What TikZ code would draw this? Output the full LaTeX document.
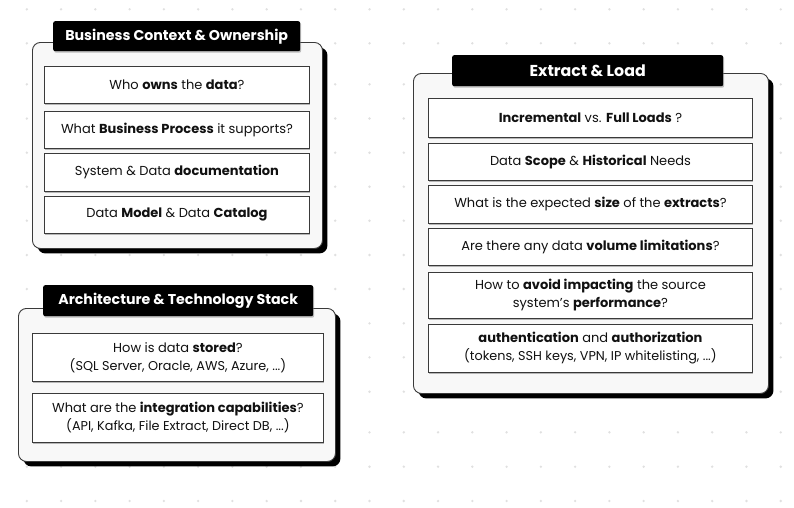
\documentclass[tikz,border=0pt]{standalone}
\usepackage{fontspec}
\setmainfont{Poppins}
\usetikzlibrary{shadows}
\definecolor{dotc}{HTML}{E0E0E0}
\definecolor{panelfill}{HTML}{F8F8F8}
\definecolor{txt}{HTML}{111111}
\definecolor{edge}{HTML}{3A3A3A}
\tikzset{
  panel/.style={draw=edge, line width=0.9pt, fill=panelfill, rounded corners=8pt,
    anchor=north west, inner sep=0pt,
    drop shadow={shadow xshift=5pt, shadow yshift=-5pt, fill=black, opacity=1}},
  titlebar/.style={fill=black, rounded corners=2pt, anchor=north west, inner sep=0pt,
    text=white, font=\fontsize{14.2}{16}\selectfont\bfseries,
    drop shadow={shadow xshift=1pt, shadow yshift=-1.5pt, fill=gray, opacity=0.5}},
  inbox/.style={draw=edge, line width=0.9pt, fill=white, anchor=north west, inner sep=0pt,
    text=txt, align=center, font=\fontsize{13}{18}\selectfont,
    drop shadow={shadow xshift=1pt, shadow yshift=-2pt, fill=gray, opacity=0.55}}
}
\newcommand{\subtxt}[1]{{\fontsize{12.8}{18}\selectfont #1}}
\begin{document}
\begin{tikzpicture}[x=1pt,y=-1pt]
\useasboundingbox (0,0) rectangle (794,507);
\fill[white] (0,0) rectangle (794,507);
% dot grid
\foreach \yy in {9.3,43.3,84.3,118.5,152.7,186.7,220.7,255,289,323.3,357.3,391.7,432.3,466.7,501}{
  \foreach \i in {0,...,22}{
    \fill[dotc] ({26.8+34.27*\i},\yy) circle (1.3pt);
  }
}
% ---------- Business Context & Ownership ----------
\node[panel, minimum width=290pt, minimum height=206pt] (p1) at (32,42) {};
\node[titlebar, minimum width=247pt, minimum height=30pt] (t1) at (53,21) {Business Context \& Ownership};
\node[inbox, minimum width=265pt, minimum height=37pt] (a1) at (44,66) {Who \textbf{owns} the \textbf{data}?};
\node[inbox, minimum width=265pt, minimum height=37pt] (a2) at (44,111) {What \textbf{Business Process} it supports?};
\node[inbox, minimum width=265pt, minimum height=38pt] (a3) at (44,153) {System \& Data \textbf{documentation}};
\node[inbox, minimum width=265pt, minimum height=37pt] (a4) at (44,196) {Data \textbf{Model} \& Data \textbf{Catalog}};
% ---------- Architecture & Technology Stack ----------
\node[panel, minimum width=317pt, minimum height=153pt] (p2) at (18,308) {};
\node[titlebar, minimum width=270pt, minimum height=31pt] (t2) at (43,285) {Architecture \& Technology Stack};
\node[inbox, minimum width=291pt, minimum height=48pt] (b1) at (32,333) {How is data \textbf{stored}?\\\subtxt{(SQL Server, Oracle, AWS, Azure, ...)}};
\node[inbox, minimum width=291pt, minimum height=49pt] (b2) at (32,393) {What are the \textbf{integration capabilities}?\\\subtxt{(API, Kafka, File Extract, Direct DB, ...)}};
% ---------- Extract & Load ----------
\node[panel, minimum width=355pt, minimum height=320pt] (p3) at (413,73) {};
\node[titlebar, minimum width=271pt, minimum height=31pt, font=\fontsize{15.8}{17}\selectfont\bfseries] (t3) at (452,55) {Extract \& Load};
\node[inbox, minimum width=324pt, minimum height=39pt] (c1) at (428,98) {\textbf{Incremental} vs. \textbf{Full Loads} ?};
\node[inbox, minimum width=324pt, minimum height=37pt] (c2) at (428,143) {Data \textbf{Scope} \& \textbf{Historical} Needs};
\node[inbox, minimum width=324pt, minimum height=38pt] (c3) at (428,185) {What is the expected \textbf{size} of the \textbf{extracts}?};
\node[inbox, minimum width=324pt, minimum height=37pt] (c4) at (428,228) {Are there any data \textbf{volume limitations}?};
\node[inbox, minimum width=324pt, minimum height=46pt] (c5) at (428,272) {How to \textbf{avoid impacting} the source\\system’s \textbf{performance}?};
\node[inbox, minimum width=324pt, minimum height=48pt] (c6) at (428,324) {\textbf{authentication} and \textbf{authorization}\\\subtxt{(tokens, SSH keys, VPN, IP whitelisting, ...)}};
\end{tikzpicture}
\end{document}
